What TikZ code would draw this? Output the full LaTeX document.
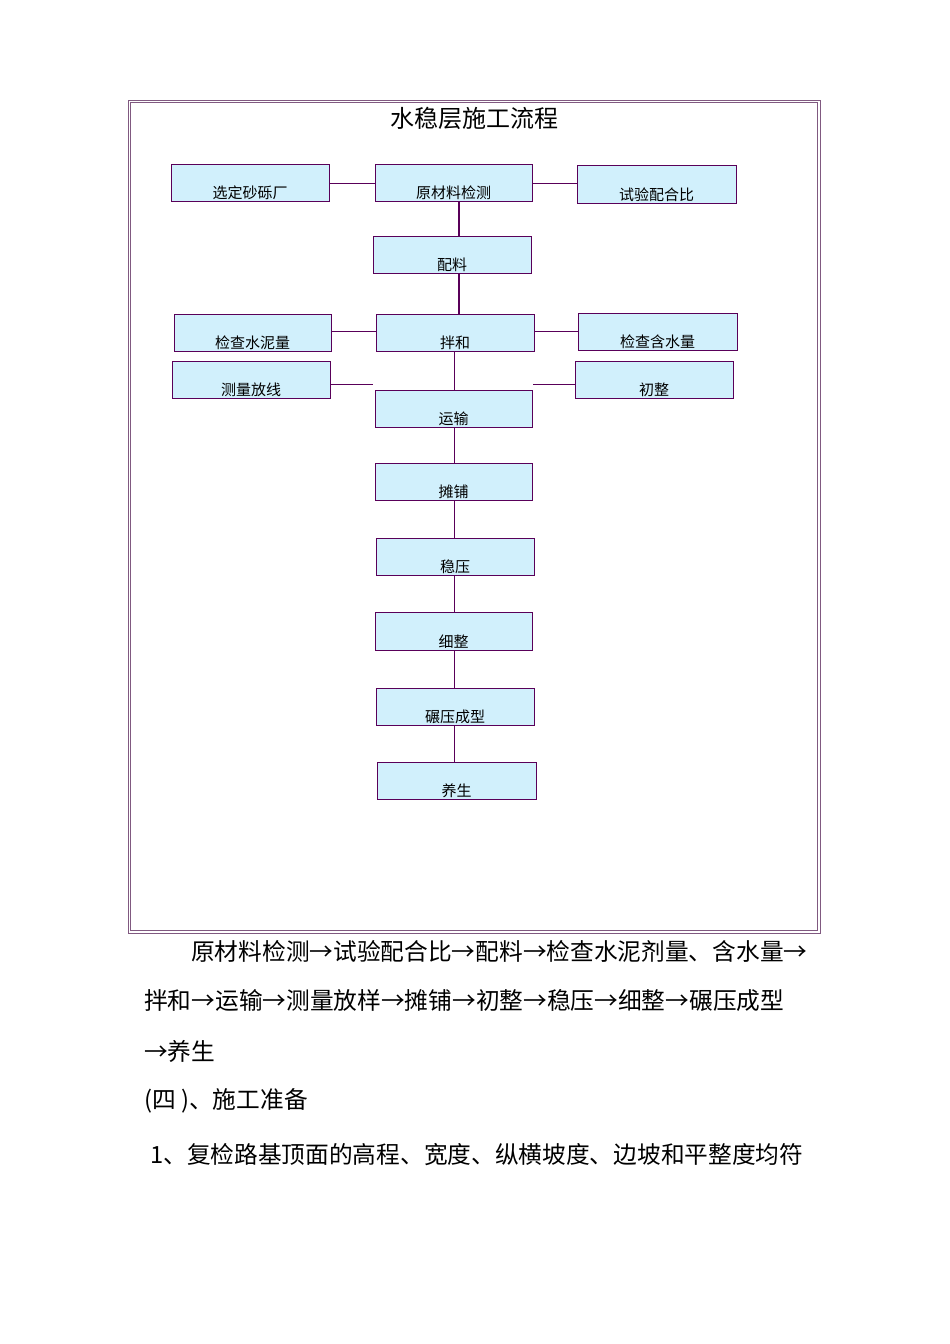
\documentclass[tikz,border=0pt]{standalone}
\usepackage{fontspec}
\setmainfont{Noto Sans CJK SC}
\begin{document}
\begin{tikzpicture}[x=1pt,y=-1pt,
  bx/.style={draw=violet!70!black,fill=cyan!18,line width=0.8pt,inner sep=0pt},
  lbl/.style={font=\fontsize{15}{15}\selectfont,anchor=south,inner sep=0pt},
  ln/.style={draw=violet!70!black,line width=0.6pt},
  tx/.style={font=\fontsize{23.7}{24}\selectfont,anchor=west,inner sep=0pt}]
\useasboundingbox (0,0) rectangle (950,1344);
\draw[gray!70!violet,line width=1pt] (128,100) rectangle (820,933);
\draw[gray!70!violet,line width=0.6pt] (130.5,102.5) rectangle (817.5,930.5);
\node[font=\fontsize{24}{24}\selectfont] (title) at (474,118) {水稳层施工流程};
\newcommand{\bb}[6]{\draw[bx] (#2,#3) rectangle (#4,#5); \node[lbl] (#1t) at ({(#2+#4)/2},#5-1) {#6};}
\bb{a}{171}{164}{329}{201}{选定砂砾厂}
\bb{b}{375}{164}{532}{201}{原材料检测}
\bb{c}{577}{165}{736}{203}{试验配合比}
\bb{d}{373}{236}{531}{273}{配料}
\bb{e}{174}{314}{331}{351}{检查水泥量}
\bb{f}{376}{314}{534}{351}{拌和}
\bb{g}{578}{313}{737}{350}{检查含水量}
\bb{h}{172}{361}{330}{398}{测量放线}
\bb{i}{575}{361}{733}{398}{初整}
\bb{j}{375}{390}{532}{427}{运输}
\bb{k}{375}{463}{532}{500}{摊铺}
\bb{l}{376}{538}{534}{575}{稳压}
\bb{m}{375}{612}{532}{650}{细整}
\bb{n}{376}{688}{534}{725}{碾压成型}
\bb{o}{377}{762}{536}{799}{养生}
\draw[ln] (329,183) -- (375,183);
\draw[ln] (532,183) -- (577,183);
\draw[ln,line width=1.5pt] (459,201) -- (459,236);
\draw[ln,line width=1.5pt] (459,273) -- (459,314);
\draw[ln] (331,331) -- (376,331);
\draw[ln] (534,331) -- (578,331);
\draw[ln] (330,384) -- (373,384);
\draw[ln] (533,384) -- (575,384);
\draw[ln] (454,351) -- (454,390);
\draw[ln] (454,427) -- (454,463);
\draw[ln] (454,500) -- (454,538);
\draw[ln] (454,575) -- (454,612);
\draw[ln] (454,650) -- (454,688);
\draw[ln] (454,725) -- (454,762);
\node[tx] (p1) at (191,951) {原材料检测→试验配合比→配料→检查水泥剂量、含水量→};
\node[tx] (p2) at (144,1001) {拌和→运输→测量放样→摊铺→初整→稳压→细整→碾压成型};
\node[tx] (p3) at (144,1051) {→养生};
\node[tx] (p4) at (144,1101) {(四 )、施工准备};
\node[tx] (p5) at (150,1155) {1、复检路基顶面的高程、宽度、纵横坡度、边坡和平整度均符};
\end{tikzpicture}
\end{document}
